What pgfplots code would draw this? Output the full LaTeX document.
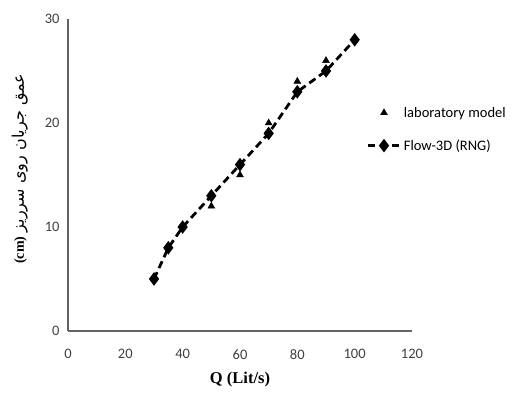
\documentclass[border=0pt]{standalone}
\usepackage{fontspec}
\setmainfont{Carlito}
\newfontfamily\timesfont{Liberation Serif}
\newfontfamily\arabicfont[Script=Arabic]{DejaVu Sans}
\usepackage{pgfplots}
\pgfplotsset{compat=1.18}
\pgfplotsset{legend image code/.code={\draw[mark repeat=2,mark phase=2,#1] plot coordinates {(0pt,0pt) (16.5pt,0pt) (33pt,0pt)};}}
\TeXXeTstate=1
\definecolor{axgray}{RGB}{100,100,100}
\definecolor{txtgray}{RGB}{64,64,64}
\begin{document}
\begin{tikzpicture}
\useasboundingbox (0,0) rectangle (511pt,398pt);
\begin{axis}[
  at={(68pt,67pt)}, anchor=south west,
  scale only axis, width=344pt, height=312pt,
  xmin=0, xmax=120, ymin=0, ymax=30,
  xtick={0,20,...,120}, ytick={0,10,20,30},
  axis x line*=bottom, axis y line*=left,
  axis line style={-, draw=axgray, line width=1.3pt},
  major tick length=0pt,
  /pgf/number format/assume math mode=true,
  tick label style={font=\fontsize{14.5}{16}\selectfont, text=txtgray},
  xticklabel style={yshift=-15pt},
  yticklabel style={xshift=-5pt},
  xlabel={\timesfont\bfseries\fontsize{16.5}{18}\selectfont Q (Lit/s)},
  xlabel style={at={(axis description cs:0.5,0)}, anchor=north, yshift=-38pt},
  ylabel={{\timesfont\bfseries\fontsize{14}{16}\selectfont (cm)}\ \ {\arabicfont\fontsize{16}{18}\selectfont\beginR عمق جریان روی سرریز\endR}},
  ylabel style={at={(axis description cs:-0.14,0.52)}, anchor=center, rotate=0},
  legend style={draw=none, fill=none, at={(axis description cs:0.866,0.725)}, anchor=north west,
    font=\fontsize{14.5}{17}\selectfont, row sep=17pt, inner sep=0pt},
  legend cell align=left,
  clip=false,
]
\addplot[only marks, mark=triangle*, mark size=4pt, black]
coordinates {(30,5) (35,8) (40,10) (50,12) (60,15) (70,20) (80,24) (90,26) (100,28)};
\addlegendentry{laboratory model}
\addplot[black, line width=2.8pt, dash pattern=on 7.5pt off 4.5pt, mark=diamond*, mark size=4.5pt,
  mark options={solid}]
coordinates {(30,5) (35,8) (40,10) (50,13) (60,16) (70,19) (80,23) (90,25) (100,28)};
\addlegendentry{Flow-3D (RNG)}
\end{axis}
\end{tikzpicture}
\end{document}
